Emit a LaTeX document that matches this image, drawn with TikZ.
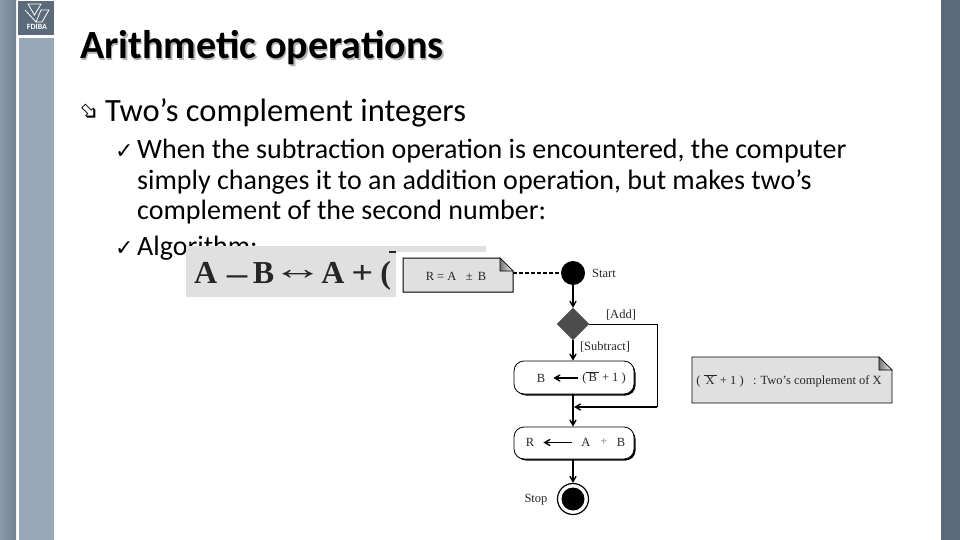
\documentclass[tikz,border=0pt]{standalone}
\usepackage{fontspec}
\setmainfont{Carlito}
\newfontfamily\serifface{Liberation Serif}
\newfontfamily\symbface{DejaVu Sans}
\usetikzlibrary{arrows,shapes.geometric}
\definecolor{bandgrey}{HTML}{98A8B8}
\definecolor{banddark}{HTML}{5B6B7B}
\definecolor{bandleft}{HTML}{8A9BAC}
\definecolor{bandmid}{HTML}{718192}
\definecolor{notegrey}{HTML}{E0E0E0}
\tikzset{
  bodyline/.style={anchor=base west,inner sep=0pt,font=\fontsize{28}{28}\selectfont},
  checkmark/.style={anchor=base west,inner sep=0pt,font=\symbface\fontsize{22}{22}\selectfont},
  figlabel/.style={inner sep=0pt,font=\serifface\fontsize{12.5}{12.5}\selectfont,text=black!85},
  flowbox/.style={draw,rounded corners=10pt,line width=0.8pt,fill=white},
  boxshade/.style={fill=black,rounded corners=10pt},
  flowline/.style={line width=1.2pt},
  flowarrow/.style={-angle 60,line width=1.4pt},
}
\begin{document}
\begin{tikzpicture}[x=1pt,y=-1pt]
      \useasboundingbox (0,0) rectangle (960,540);
      % side bands
      \fill[left color=bandleft,right color=bandmid] (0,0) rectangle (16,540);
      \fill[bandgrey] (19,38) rectangle (54,540);
      \fill[banddark] (941,0) rectangle (960,540);
      % logo
      \fill[banddark] (18,1) rectangle (54,35);
      \draw[white,line width=0.8pt] (28,4) -- (41,4) -- (34.5,15) -- cycle;
      \draw[white,line width=0.8pt] (25,10) -- (36,22) -- (41,10) -- (49,10) -- (42,22) -- (36,22);
      \node (logotext) at (37,27) [inner sep=0pt,text=white,font=\bfseries\fontsize{8}{8}\selectfont] {FDIBA};
      % heading and bullets
      \node (titleshadow) at (81.5,60.5) [anchor=base west,inner sep=0pt,text=black!30,font=\bfseries\fontsize{40}{40}\selectfont] {Arithmetic operations};
      \node (title) at (80,59) [anchor=base west,inner sep=0pt,font=\bfseries\fontsize{40}{40}\selectfont] {Arithmetic operations};
      \node (bulletmain) at (89,113) [rotate=-45,inner sep=0pt,font=\symbface\fontsize{24}{24}\selectfont] {➩};
      \node (mainline) at (105,122) [anchor=base west,inner sep=0pt,font=\fontsize{32.5}{32.5}\selectfont] {Two’s complement integers};
      \node (checkone) at (115,159) [checkmark] {✓};
      \node (lineone) at (137,159) [bodyline] {When the subtraction operation is encountered, the computer};
      \node (linetwo) at (137,189.5) [bodyline] {simply changes it to an addition operation, but makes two’s};
      \node (linethree) at (137,219) [bodyline] {complement of the second number:};
      \node (checktwo) at (115,255) [checkmark] {✓};
      \node (linefour) at (137,255) [bodyline] {Algorithm:};
      % formula picture, cut off by the flow chart picture
      \fill[notegrey] (186,246) rectangle (486,297);
      \node (formula) at (194,283) [anchor=base west,inner sep=0pt,text=black!85,font=\serifface\bfseries\fontsize{32}{32}\selectfont] {A\kern7pt\raisebox{-4pt}{\scalebox{1.4}[1]{−}}\kern3pt B\kern-2pt\raisebox{4pt}{\scalebox{1.6}[1]{↔}}\kern-2pt A\kern7pt\scalebox{1.2}[1]{+}\kern7pt(};
      \fill[white] (396,252) rectangle (516,300);
      \fill[black!85] (389,251) rectangle (396,252.5);
      % note at top
      \draw[fill=notegrey,line width=1pt] (403,258) -- (500,258) -- (513,271) -- (513,292) -- (403,292) -- cycle;
      \draw[left color=black!55,right color=white,line width=0.6pt] (500,258) -- (500,271) -- (513,271) -- cycle;
      \node (noteone) at (456,276) [figlabel] {R = A \enspace ± \,B};
      % flow chart
      \node (start) at (573,273) [circle,fill=black,minimum size=24pt,inner sep=0pt] {};
      \node (startlabel) at (604,273) [figlabel] {Start};
      \node (branch) at (573,324) [diamond,aspect=1,fill=black!70,draw=black!70,minimum size=32pt,inner sep=0pt] {};
      \node (addlabel) at (621,315) [figlabel] {[Add]};
      \node (sublabel) at (605,347) [figlabel] {[Subtract]};
      \fill[boxshade] (516,363) rectangle (635.5,395.5);
      \node (boxb) at (574,377.5) [flowbox,minimum width=120pt,minimum height=33pt] {};
      \node (bleft) at (541,378) [figlabel] {B};
      \node (bright) at (604,378) [figlabel] {($\overline{\mbox{\,B\,}}$ + 1 )};
      \fill[boxshade] (516,429) rectangle (635.5,460.5);
      \node (boxr) at (574,443) [flowbox,minimum width=120pt,minimum height=32pt] {};
      \node (rleft) at (530,442.5) [figlabel] {R};
      \node (rright) at (586,442.5) [figlabel] {A};
      \node (rplus) at (604,442) [figlabel,text=black!50] {+};
      \node (rlast) at (621,442) [figlabel] {B};
      \node (stop) at (573,499) [circle,draw,line width=1.2pt,fill=white,minimum size=31pt,inner sep=0pt] {};
      \node (stopdot) at (573,499) [circle,fill=black,minimum size=23pt,inner sep=0pt] {};
      \node (stoplabel) at (536,500) [figlabel] {Stop};
      \coordinate (notetap) at (513,273);
      \coordinate (corner) at (657,324);
      \coordinate (cornerlow) at (657,407);
      \coordinate (joint) at (574,407);
      \draw[flowline,dash pattern=on 4pt off 2pt] (notetap) -- (start);
      \draw[flowarrow] (start) -- (branch);
      \draw[flowarrow] (branch) -- (boxb.north -| branch);
      \draw[flowline,line width=1pt] (branch) -- (corner) -- (cornerlow);
      \draw[flowarrow] (cornerlow) -- (joint);
      \draw[flowarrow] (boxb.south -| branch) -- (boxr.north -| branch);
      \draw[flowarrow] (boxr.south -| branch) -- (stop);
      \draw[flowarrow,shorten <=4pt,shorten >=8pt] (bright) -- (bleft);
      \draw[flowarrow,shorten <=9pt,shorten >=9pt] (rright) -- (rleft);
      % note on the right
      \draw[fill=notegrey,line width=0.8pt] (692,357) -- (879,357) -- (892,370) -- (892,403) -- (692,403) -- cycle;
      \draw[left color=black!55,right color=white,line width=0.6pt] (879,357) -- (879,370) -- (892,370) -- cycle;
      \node (notetwo) at (789,381) [figlabel] {( $\overline{\mbox{\,X\,}}$ + 1 ) \enspace : Two’s complement of X};
\end{tikzpicture}
\end{document}
